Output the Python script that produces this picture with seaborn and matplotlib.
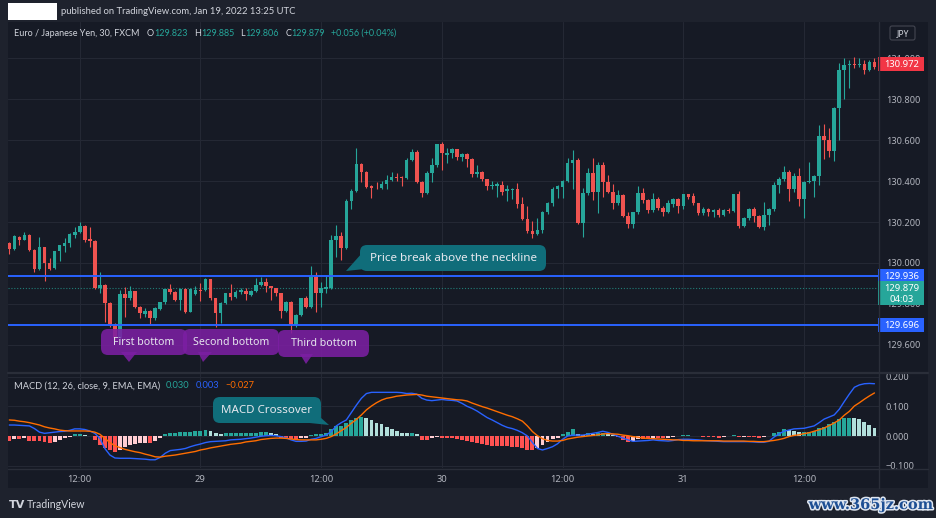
import numpy as np
import pandas as pd
import matplotlib
matplotlib.use("Agg")
import matplotlib.pyplot as plt
import seaborn as sns
from matplotlib.patches import Rectangle, FancyBboxPatch, Polygon
import matplotlib.patheffects as pe

# ---------------- data (EUR/JPY 30m) ----------------
opens = [130.096,130.067,130.128,130.112,130.137,130.063,129.971,130.076,130.002,129.974,
         130.059,130.085,130.096,130.137,130.153,130.180,130.115,130.108,129.880,129.893,
         129.803,129.700,129.635,129.847,129.828,129.863,129.787,129.751,129.766,129.730,
         129.776,129.808,129.873,129.860,129.820,129.873,129.763,129.849,129.868,129.868,
         129.920,129.828,129.754,129.803,129.852,129.836,129.860,129.863,129.845,129.863,
         129.893,129.909,129.889,129.876,129.852,129.766,129.811,129.698,129.746,129.828,
         129.787,129.933,129.852,129.873,129.880,130.112,130.132,130.075,130.302,130.351,
         130.481,130.442,130.375,130.368,130.364,130.384,130.403,130.421,130.421,130.416,
         130.502,130.543,130.397,130.340,130.437,130.478,130.579,130.529,130.535,130.554,
         130.515,130.532,130.507,130.433,130.446,130.408,130.376,130.377,130.380,130.351,
         130.356,130.361,130.288,130.213,130.156,130.140,130.161,130.250,130.291,130.359,
         130.373,130.400,130.486,130.502,130.193,130.340,130.437,130.345,130.478,130.397,
         130.348,130.291,130.332,130.229,130.189,130.247,130.343,130.307,130.259,130.311,
         130.268,130.247,130.288,130.311,130.278,130.335,130.327,130.291,130.246,130.263,
         130.250,130.258,130.234,130.258,130.254,130.335,130.182,130.221,130.263,130.229,
         130.177,130.234,130.262,130.380,130.408,130.442,130.359,130.424,130.311,130.393,
         130.401,130.424,130.620,130.600,130.546,130.758,130.941,130.966,130.970,130.964,
         130.971,130.941,130.982]
highs = [130.100,130.138,130.130,130.150,130.140,130.070,130.128,130.080,130.026,130.060,
         130.090,130.120,130.145,130.177,130.202,130.183,130.177,130.110,129.958,129.898,
         129.810,129.705,129.868,129.885,129.888,129.865,129.790,129.779,129.770,129.785,
         129.812,129.875,129.896,129.862,129.880,129.880,129.878,129.889,129.904,129.925,
         129.922,129.830,129.810,129.855,129.898,129.868,129.876,129.876,129.870,129.925,
         129.933,129.925,129.890,129.880,129.855,129.815,129.815,129.750,129.830,129.840,
         129.987,129.958,129.909,129.941,130.137,130.185,130.153,130.310,130.360,130.559,
         130.490,130.450,130.380,130.397,130.400,130.430,130.446,130.440,130.425,130.510,
         130.556,130.550,130.400,130.450,130.511,130.580,130.592,130.560,130.560,130.556,
         130.535,130.535,130.510,130.478,130.450,130.410,130.400,130.397,130.400,130.380,
         130.365,130.392,130.320,130.278,130.205,130.221,130.255,130.300,130.372,130.380,
         130.405,130.514,130.551,130.510,130.367,130.465,130.514,130.495,130.495,130.430,
         130.384,130.356,130.335,130.247,130.250,130.376,130.364,130.310,130.343,130.324,
         130.278,130.307,130.315,130.315,130.338,130.338,130.340,130.295,130.275,130.267,
         130.262,130.266,130.262,130.266,130.337,130.351,130.225,130.270,130.275,130.232,
         130.299,130.270,130.397,130.420,130.473,130.454,130.440,130.462,130.400,130.494,
         130.430,130.673,130.678,130.657,130.760,130.974,130.998,130.993,131.006,130.998,
         130.993,130.990,131.000]
lows = [130.042,130.065,130.088,130.110,130.060,129.958,129.965,129.914,129.965,129.970,
        130.011,130.055,130.080,130.120,130.145,130.104,130.080,129.875,129.852,129.714,
        129.690,129.625,129.610,129.738,129.820,129.780,129.730,129.738,129.701,129.720,
        129.770,129.800,129.847,129.815,129.771,129.755,129.760,129.845,129.815,129.865,
        129.820,129.690,129.706,129.800,129.820,129.830,129.847,129.820,129.840,129.860,
        129.890,129.860,129.820,129.840,129.733,129.760,129.657,129.690,129.740,129.780,
        129.780,129.763,129.787,129.852,129.875,130.031,130.015,130.070,130.263,130.345,
        130.397,130.365,130.319,130.360,130.360,130.360,130.398,130.400,130.377,130.410,
        130.500,130.390,130.324,130.335,130.397,130.470,130.454,130.490,130.510,130.502,
        130.497,130.467,130.420,130.420,130.400,130.356,130.360,130.324,130.332,130.302,
        130.310,130.267,130.210,130.145,130.124,130.135,130.148,130.240,130.276,130.315,
        130.315,130.395,130.361,130.190,130.128,130.330,130.307,130.242,130.324,130.340,
        130.263,130.285,130.225,130.172,130.170,130.240,130.294,130.242,130.250,130.260,
        130.229,130.242,130.272,130.242,130.262,130.310,130.283,130.234,130.234,130.229,
        130.226,130.226,130.230,130.245,130.250,130.172,130.175,130.210,130.202,130.172,
        130.161,130.185,130.255,130.343,130.400,130.304,130.348,130.278,130.218,130.389,
        130.324,130.380,130.506,130.515,130.498,130.600,130.798,130.852,130.950,130.955,
        130.922,130.937,130.945]
closes = [130.067,130.132,130.112,130.137,130.063,129.971,130.076,130.002,129.971,130.059,
          130.088,130.099,130.141,130.153,130.180,130.112,130.108,129.880,129.893,129.803,
          129.700,129.635,129.847,129.828,129.863,129.787,129.754,129.766,129.730,129.779,
          129.808,129.873,129.860,129.820,129.873,129.763,129.873,129.868,129.862,129.920,
          129.828,129.754,129.803,129.852,129.836,129.860,129.868,129.847,129.864,129.893,
          129.909,129.889,129.876,129.852,129.766,129.811,129.698,129.746,129.828,129.787,
          129.933,129.852,129.876,129.885,130.112,130.132,130.075,130.302,130.351,130.481,
          130.442,130.372,130.367,130.365,130.384,130.405,130.421,130.416,130.413,130.502,
          130.543,130.397,130.340,130.437,130.478,130.579,130.535,130.537,130.556,130.515,
          130.532,130.507,130.433,130.446,130.408,130.376,130.380,130.384,130.348,130.359,
          130.361,130.288,130.213,130.156,130.140,130.161,130.250,130.291,130.359,130.376,
          130.400,130.486,130.502,130.193,130.340,130.437,130.345,130.478,130.397,130.348,
          130.291,130.332,130.229,130.189,130.247,130.343,130.307,130.259,130.311,130.267,
          130.250,130.291,130.311,130.278,130.335,130.324,130.291,130.246,130.263,130.250,
          130.258,130.234,130.258,130.252,130.335,130.182,130.221,130.263,130.229,130.177,
          130.234,130.262,130.380,130.408,130.442,130.359,130.424,130.311,130.397,130.401,
          130.424,130.620,130.600,130.546,130.758,130.941,130.966,130.971,130.964,130.971,
          130.941,130.982,130.955]
macd_line = [0.037,0.037,0.036,0.035,0.034,0.025,0.013,0.009,0.011,0.013,
             0.015,0.016,0.019,0.024,0.024,0.022,0.017,0.009,-0.008,-0.042,
             -0.064,-0.074,-0.075,-0.075,-0.075,-0.076,-0.077,-0.078,-0.080,-0.080,
             -0.072,-0.058,-0.049,-0.047,-0.045,-0.042,-0.036,-0.031,-0.027,-0.022,
             -0.019,-0.018,-0.017,-0.016,-0.013,-0.012,-0.011,-0.009,-0.007,-0.004,
             -0.001,0.001,0.002,0.001,-0.002,-0.006,-0.013,-0.018,-0.018,-0.017,
             -0.011,-0.008,-0.002,0.003,0.015,0.034,0.045,0.054,0.079,0.104,
             0.127,0.143,0.147,0.147,0.147,0.147,0.147,0.147,0.146,0.143,
             0.144,0.141,0.127,0.121,0.119,0.121,0.123,0.121,0.120,0.118,
             0.110,0.100,0.093,0.084,0.073,0.062,0.054,0.045,0.036,0.029,
             0.025,0.019,0.011,0.000,-0.022,-0.042,-0.047,-0.042,-0.036,-0.026,
             -0.011,0.000,0.003,0.003,0.003,0.006,0.009,0.012,0.016,0.012,
             0.006,-0.001,-0.007,-0.013,-0.018,-0.017,-0.016,-0.015,-0.013,-0.015,
             -0.016,-0.017,-0.015,-0.012,-0.011,-0.011,-0.012,-0.013,-0.015,-0.016,
             -0.017,-0.018,-0.019,-0.019,-0.019,-0.019,-0.019,-0.019,-0.020,-0.021,
             -0.021,-0.018,-0.004,0.007,0.016,0.020,0.024,0.025,0.026,0.030,
             0.034,0.045,0.057,0.064,0.071,0.090,0.116,0.141,0.164,0.172,
             0.176,0.177,0.176]
signal_line = [0.054,0.053,0.050,0.048,0.045,0.041,0.037,0.031,0.027,0.024,
               0.020,0.018,0.017,0.017,0.017,0.017,0.016,0.013,0.006,-0.008,
               -0.022,-0.033,-0.039,-0.045,-0.049,-0.053,-0.056,-0.061,-0.065,-0.070,
               -0.071,-0.068,-0.066,-0.064,-0.061,-0.058,-0.055,-0.052,-0.047,-0.044,
               -0.040,-0.037,-0.034,-0.031,-0.028,-0.026,-0.024,-0.020,-0.018,-0.016,
               -0.012,-0.010,-0.008,-0.007,-0.007,-0.008,-0.010,-0.012,-0.013,-0.013,
               -0.013,-0.013,-0.011,-0.008,-0.002,0.007,0.018,0.029,0.043,0.056,
               0.071,0.088,0.101,0.112,0.121,0.127,0.130,0.134,0.136,0.138,
               0.139,0.140,0.138,0.134,0.132,0.130,0.128,0.126,0.124,0.122,
               0.121,0.118,0.111,0.105,0.099,0.094,0.088,0.082,0.076,0.070,
               0.065,0.058,0.050,0.034,0.015,0.001,-0.009,-0.015,-0.017,-0.017,
               -0.015,-0.010,-0.007,-0.004,-0.002,0.000,0.002,0.004,0.007,0.008,
               0.007,0.006,0.003,0.001,-0.002,-0.004,-0.007,-0.008,-0.009,-0.010,
               -0.011,-0.012,-0.013,-0.013,-0.015,-0.015,-0.016,-0.016,-0.016,-0.016,
               -0.016,-0.016,-0.017,-0.017,-0.017,-0.017,-0.017,-0.018,-0.018,-0.019,
               -0.019,-0.017,-0.015,-0.012,-0.008,-0.002,0.002,0.004,0.008,0.011,
               0.016,0.021,0.027,0.035,0.044,0.054,0.070,0.083,0.101,0.112,
               0.124,0.135,0.145]
histogram = [-0.016,-0.010,-0.010,-0.008,-0.016,-0.017,-0.017,-0.019,-0.022,-0.019,
             -0.013,-0.008,-0.002,0.006,0.006,0.003,0.001,-0.013,-0.030,-0.042,
             -0.047,-0.053,-0.047,-0.036,-0.030,-0.027,-0.025,-0.022,-0.022,-0.016,
             -0.008,0.006,0.009,0.009,0.012,0.012,0.015,0.017,0.017,0.020,
             0.017,0.009,0.007,0.009,0.009,0.009,0.009,0.009,0.009,0.009,
             0.012,0.012,0.011,0.007,-0.006,-0.009,-0.010,-0.013,-0.008,-0.006,
             0.003,0.006,0.007,0.009,0.022,0.034,0.034,0.045,0.054,0.059,
             0.065,0.062,0.054,0.045,0.039,0.029,0.022,0.017,0.011,0.009,
             0.009,0.007,-0.013,-0.013,-0.008,-0.002,-0.006,-0.008,-0.008,-0.010,
             -0.013,-0.016,-0.019,-0.022,-0.027,-0.030,-0.034,-0.034,-0.034,-0.034,
             -0.036,-0.038,-0.042,-0.047,-0.047,-0.042,-0.030,-0.019,-0.011,-0.006,
             0.006,0.015,0.022,0.006,0.003,0.009,0.006,0.009,0.011,0.007,
             0.003,-0.004,-0.013,-0.019,-0.016,-0.011,-0.011,-0.011,-0.008,-0.008,
             -0.008,-0.006,-0.004,0.001,0.003,0.003,0.001,-0.001,-0.004,-0.004,
             -0.004,-0.006,-0.004,-0.001,0.002,-0.004,-0.003,-0.004,-0.004,-0.008,
             -0.004,0.000,0.009,0.015,0.022,0.020,0.017,0.015,0.015,0.015,
             0.018,0.026,0.031,0.040,0.048,0.056,0.062,0.062,0.060,0.056,
             0.048,0.037,0.026]
time_tick_pos = [14, 38, 62, 86, 110, 134, 158]
time_tick_labels = ["12:00", "29", "12:00", "30", "12:00", "31", "12:00"]
price_ticks = [129.6, 129.8, 130.0, 130.2, 130.4, 130.6, 130.8, 131.0]
macd_ticks = [-0.1, 0.0, 0.1, 0.2]
neckline_upper = 129.936
neckline_lower = 129.696
current_price = 129.879
last_price = 130.972
legend_ohlc = [("O", "129.823"), ("H", "129.885"), ("L", "129.806"), ("C", "129.879")]
macd_legend_vals = ["0.030", "0.003", "\u22120.027"]

# ---------------- style ----------------
BG = "#161a25"
FRAME = "#1e222d"
GRID = "#242834"
SEP = "#2a2e39"
TXT = "#b2b5be"
UP, DN = "#26a69a", "#ef5350"
sns.set_theme(style="dark", rc={"axes.facecolor": BG, "figure.facecolor": FRAME})
plt.rcParams["font.family"] = ["Noto Sans", "DejaVu Sans"]
NARROW = ["Lato", "DejaVu Sans"]

W, H = 936, 518
fig = plt.figure(figsize=(W / 100, H / 100), dpi=100)
fig.patch.set_facecolor(FRAME)

def fbox(x0, y0, x1, y1):
    return [x0 / W, 1 - y1 / H, (x1 - x0) / W, (y1 - y0) / H]

fig.add_artist(Rectangle((8 / W, 1 - 488 / H), 920 / W, 466 / H,
                         transform=fig.transFigure, facecolor=BG, edgecolor="none", zorder=-10))

df = pd.DataFrame({"o": opens, "h": highs, "l": lows, "c": closes})
df["i"] = np.arange(len(df))
cols = np.where(df["c"] >= df["o"], UP, DN)

ax = fig.add_axes(fbox(8, 22, 879, 372))
ax2 = fig.add_axes(fbox(8, 372, 879, 468))
for a in (ax, ax2):
    a.set_facecolor(BG)
    for s in a.spines.values():
        s.set_visible(False)
    a.set_xlim(-0.26, 172.9)
    a.set_xticks(time_tick_pos)
    a.grid(True, color=GRID, lw=0.8)
    a.set_axisbelow(True)
    a.yaxis.tick_right()

# candles
ax.vlines(df["i"], df["l"], df["h"], colors=cols, lw=0.8, zorder=2)
body = np.maximum((df["c"] - df["o"]).abs(), 0.0015)
ax.bar(df["i"], body, bottom=np.minimum(df["o"], df["c"]), width=0.72,
       color=cols, linewidth=0, zorder=3)
ax.axhline(neckline_upper, color="#2962ff", lw=1.4, zorder=4)
ax.axhline(neckline_lower, color="#2962ff", lw=1.4, zorder=4)
ax.axhline(current_price, color=UP, lw=0.8, ls=(0, (1, 1.6)), alpha=0.7, zorder=1)
ax.set_ylim(129.468, 131.176)
ax.set_yticks(price_ticks)
ax.set_yticklabels([f"{v:.3f}" for v in price_ticks])
ax.tick_params(axis="y", length=0, pad=5, labelsize=6.6, labelcolor=TXT)
ax.tick_params(axis="x", length=0, labelbottom=False)

# MACD pane
hcols = []
prev = 0.0
for hv in histogram:
    if hv >= 0:
        hcols.append("#26a69a" if hv >= prev else "#b2dfdb")
    else:
        hcols.append("#ffcdd2" if hv > prev else "#ff5252")
    prev = hv
ax2.bar(df["i"], histogram, width=0.78, color=hcols, linewidth=0, zorder=2)
mdf = pd.DataFrame({"i": df["i"], "macd": macd_line, "signal": signal_line})
sns.lineplot(data=mdf, x="i", y="macd", ax=ax2, color="#2962ff", lw=1.0, zorder=3)
sns.lineplot(data=mdf, x="i", y="signal", ax=ax2, color="#ff6d00", lw=1.0, zorder=3)
ax2.set_xlabel("")
ax2.set_ylabel("")
ax2.set_ylim(-0.1077, 0.2155)
ax2.set_yticks(macd_ticks)
ax2.set_yticklabels([f"{v:.3f}".replace("-", "\u2212") for v in macd_ticks])
ax2.tick_params(axis="y", length=0, pad=5, labelsize=6.6, labelcolor=TXT)
ax2.set_xticks(time_tick_pos)
ax2.set_xticklabels(time_tick_labels)
ax2.tick_params(axis="x", length=0, pad=5, labelsize=6.8, labelcolor=TXT)

# ---------------- overlay (pixel coordinates) ----------------
ov = fig.add_axes([0, 0, 1, 1], zorder=10)
ov.set_xlim(0, W)
ov.set_ylim(H, 0)
ov.axis("off")
renderer = fig.canvas.get_renderer()

def py(a, v):
    return H - a.transData.transform((0, v))[1]

def seq_text(x, y, pieces, fs, family):
    """place text pieces one after another; pieces = (text, color, gap_before)"""
    for txt, color, gap in pieces:
        x += gap
        t = ov.text(x, y, txt, color=color, fontsize=fs, va="center", ha="left", family=family)
        x += t.get_window_extent(renderer).width
    return x

# separators
ov.plot([879, 879], [22, 488], color=SEP, lw=1)
ov.plot([8, 928], [372.5, 372.5], color=SEP, lw=1.6)
ov.plot([8, 928], [468.5, 468.5], color=SEP, lw=1)
ov.add_patch(Rectangle((879.6, 469), 48, 19, facecolor=BG, edgecolor="none"))

# top bar
ov.add_patch(Rectangle((8, 3), 49, 17, facecolor="white", edgecolor="none"))
ov.text(61, 12, "published on TradingView.com, Jan 19, 2022 13:25 UTC",
        color="#d1d4dc", fontsize=6.8, va="center", ha="left", family=NARROW)

# legend row
pieces = [("Euro / Japanese Yen, 30, FXCM", "#d1d4dc", 0)]
for k, (lab, val) in enumerate(legend_ohlc):
    pieces.append((lab, "#d1d4dc", 7 if k == 0 else 6))
    pieces.append((val, UP, 0.6))
pieces.append(("+0.056 (+0.04%)", UP, 6))
seq_text(14, 33.5, pieces, 6.5, NARROW)

# JPY box
ov.add_patch(FancyBboxPatch((890, 26), 25, 14, boxstyle="round,pad=0,rounding_size=2",
                            facecolor=BG, edgecolor="#434651", lw=0.8))
ov.text(902.5, 33.2, "JPY", color="#d1d4dc", fontsize=6.2, ha="center", va="center")

# right-axis price labels
def plabel(v, color, txt):
    y = py(ax, v)
    ov.add_patch(Rectangle((878, y - 7), 46, 14, facecolor=color, edgecolor="none"))
    ov.text(902, y + 0.3, txt, color="white", fontsize=6.8, ha="center", va="center")

plabel(last_price, "#f23645", f"{last_price:.3f}")
plabel(neckline_upper, "#2962ff", f"{neckline_upper:.3f}")
yc = py(ax, current_price)
ov.add_patch(Rectangle((878, yc - 6.3), 46, 24, facecolor=UP, edgecolor="none"))
ov.text(902, yc + 0.3, f"{current_price:.3f}", color="white", fontsize=6.8, ha="center", va="center")
ov.text(902, yc + 11.5, "04:03", color="white", fontsize=6.8, ha="center", va="center")
plabel(neckline_lower, "#2962ff", f"{neckline_lower:.3f}")

# MACD legend
seq_text(14, 385.7, [("MACD (12, 26, close, 9, EMA, EMA)", "#d1d4dc", 0),
                     (macd_legend_vals[0], UP, 6),
                     (macd_legend_vals[1], "#2962ff", 6),
                     (macd_legend_vals[2], "#ff6d00", 6)], 6.7, NARROW)

# annotation bubbles
TEAL = "#106d7a"
PURP = "#7b1fa2"

def bubble(x0, y0, x1, y1, tail, text, color, alpha=1.0, fs=7.6):
    ov.add_patch(Polygon(tail, closed=True, facecolor=color, edgecolor="none", alpha=alpha))
    ov.add_patch(FancyBboxPatch((x0, y0), x1 - x0, y1 - y0,
                                boxstyle="round,pad=0,rounding_size=7",
                                facecolor=color, edgecolor="none", alpha=alpha))
    ov.text((x0 + x1) / 2, (y0 + y1) / 2 + 0.5, text, color="#e6e8ee", fontsize=fs,
            ha="center", va="center")

bubble(360, 245, 546, 271, [(363, 252), (346, 271), (374, 268)],
       "Price break above the neckline", TEAL, fs=8.4)
bubble(213, 397, 321, 423, [(312, 410), (329, 425), (300, 422)],
       "MACD Crossover", TEAL, fs=8.3)
bubble(101, 329, 187, 355, [(121, 352), (129, 362), (137, 352)],
       "First bottom", PURP, alpha=0.88)
bubble(183, 329, 279, 355, [(198, 352), (203, 362), (212, 352)],
       "Second bottom", PURP, alpha=0.88)
bubble(278, 330, 369, 357, [(300, 354), (306, 364), (313, 354)],
       "Third bottom", PURP, alpha=0.88)

# bottom bar
ov.text(9, 504.5, "TV", color="#d1d4dc", fontsize=8, fontweight="heavy", ha="left", va="center",
        family=["DejaVu Sans"])
ov.text(27, 504.5, "TradingView", color="#d1d4dc", fontsize=7.6, ha="left", va="center",
        family=NARROW)
ov.text(871, 505, "www.365jz.com", color="#1d4f94", fontsize=10.5, fontweight="bold",
        ha="center", va="center", family=["DejaVu Serif"],
        path_effects=[pe.withStroke(linewidth=2.2, foreground="#dfe6f0")])

fig.savefig("out.png", dpi=100, facecolor=FRAME)
